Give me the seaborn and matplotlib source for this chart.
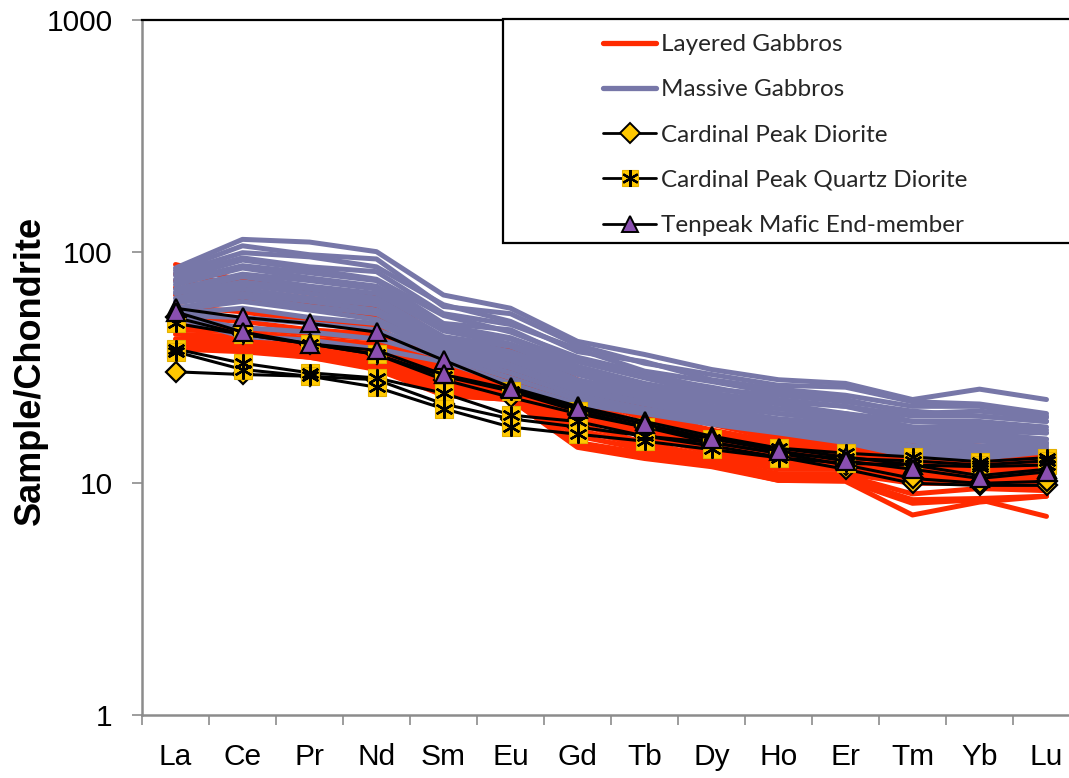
import numpy as np
import pandas as pd
import matplotlib
matplotlib.use("Agg")
import matplotlib.pyplot as plt
import seaborn as sns
from matplotlib.lines import Line2D
from matplotlib.patches import Rectangle
from matplotlib.legend_handler import HandlerTuple

# Chondrite-normalised rare earth element patterns
elements = ["La", "Ce", "Pr", "Nd", "Sm", "Eu", "Gd", "Tb", "Dy", "Ho", "Er", "Tm", "Yb", "Lu"]

layered_gabbros = {
    "LG-01": [88, 75, 70, 65, 42, 38, 28, 22, 19, 16, 16, 15, 14.5, 13],
    "LG-02": [80, 72, 67, 62, 40, 36, 27, 21, 18, 15.5, 15.5, 14, 14, 12.5],
    "LG-03": [75, 68, 63, 58, 38, 33, 26, 20, 17, 15, 15, 13.5, 13.5, 12],
    "LG-04": [70, 65, 60, 55, 36, 31, 25, 19.5, 16.5, 14.5, 14.5, 13, 13, 11.5],
    "LG-05": [65, 62, 57, 52, 35, 30, 24, 19, 16, 14, 14, 12.5, 12.5, 11.5],
    "LG-06": [58, 55, 50, 47, 33, 29, 23, 18, 15.5, 13.5, 13.5, 12, 12, 11],
    "LG-07": [52, 50, 46, 44, 32, 28, 22, 17.5, 15, 13, 13, 11.5, 11.5, 11],
    "LG-08": [48, 47, 44, 42, 31, 27, 21, 17, 14.5, 12.5, 12.5, 11, 11, 10.5],
    "LG-09": [46, 45, 42, 40, 30, 26.5, 20, 16.5, 14, 12, 12, 10.8, 10.8, 10.5],
    "LG-10": [44, 43, 40, 38, 29, 26, 19, 16, 13.5, 11.8, 11.8, 10.5, 10.5, 10],
    "LG-11": [42, 42, 39, 37, 28, 25.5, 18, 15, 13, 11.5, 11.5, 10.5, 10.5, 10],
    "LG-12": [41, 41, 38, 35, 27, 25, 17, 14.5, 12.5, 11, 11, 10, 10, 9.5],
    "LG-13": [40, 40, 37, 34, 26, 24.5, 16, 14, 12.5, 10.8, 10.8, 9, 9.5, 9.3],
    "LG-14": [39, 39, 36, 33, 25, 24, 15, 13.5, 12, 10.5, 10.5, 8.5, 8.6, 8.8],
    "LG-15": [38, 38, 35, 32, 24, 23, 14.5, 13, 12, 10.3, 10.3, 8.2, 8.5, 7.2],
    "LG-16": [38, 37, 35, 31, 24, 23, 14.3, 12.8, 11.8, 10.3, 10.2, 7.3, 8.3, 8.8],
}

massive_gabbros = {
    "MG-01": [85, 113, 110, 100, 65, 57, 41, 36, 31, 28, 27, 23, 25.5, 23],
    "MG-02": [83, 106, 97, 93, 58, 54, 39.5, 33, 29.5, 26.5, 26, 22.5, 22, 20],
    "MG-03": [81, 99, 95, 86, 59, 50, 37, 33.5, 28, 25.5, 24, 21.5, 21.5, 19.5],
    "MG-04": [79, 94, 86, 82, 54, 48.5, 38, 30.5, 27.5, 24.5, 23, 20, 20.5, 19.2],
    "MG-05": [76, 92, 84, 76, 53, 45, 35, 30, 25.5, 24, 22.5, 20.5, 19.5, 18.5],
    "MG-06": [74, 87, 81, 75, 49, 46, 34, 29, 26, 23, 21.5, 19.5, 19.5, 18.5],
    "MG-07": [72, 85, 77, 71, 48, 42.5, 33.5, 28.5, 24.5, 22.5, 21.5, 18.5, 18.5, 17.5],
    "MG-08": [69, 80, 75, 69, 46, 42, 32, 27, 24, 22, 20, 18.5, 18, 17],
    "MG-09": [67, 78, 71, 66, 45.5, 40, 31, 26.5, 23.5, 21, 20, 17.5, 17.5, 16.5],
    "MG-10": [66, 74, 69, 63, 43, 39, 30, 26, 22.5, 21, 19.5, 17.5, 16.8, 16.5],
    "MG-11": [63, 72, 66, 61, 42.5, 37, 29.5, 25, 22.5, 20, 19, 16.8, 16.5, 15.5],
    "MG-12": [61, 69, 63, 59, 41, 36.5, 28, 24.5, 21.5, 20, 18.5, 16.5, 16, 15.5],
    "MG-13": [60, 66, 61, 56, 40, 35, 27.5, 23.5, 21, 19, 18, 16, 15.5, 15],
    "MG-14": [57, 64, 58, 54, 38.5, 34, 26.5, 23.5, 20.5, 18.8, 17.5, 15.5, 15.2, 14.8],
    "MG-15": [56, 61, 56, 51, 38, 32.5, 25.5, 22.5, 20, 18, 17, 15.2, 14.5, 14.5],
    "MG-16": [54, 57, 52, 49, 36.5, 31.5, 25, 22, 19.5, 17.5, 16.5, 14.5, 14.2, 14.2],
    "MG-17": [53, 52, 49, 46, 36, 30, 24, 21, 19, 17.2, 16, 14, 13.6, 14],
    "MG-18": [52, 47, 45, 42, 35, 28.5, 23, 20.5, 18.5, 16.8, 15.5, 13.5, 13.2, 13.8],
    "MG-19": [52, 43, 41.5, 38, 33.5, 27, 22, 20, 18, 16.5, 15, 13, 12.8, 13.7],
}

cardinal_diorite = {
    "CPD-1": [30.3, 29.5, 29, 28, 22, 19, 17.5, 16, 14.5, 13, 11.5, 10, 9.8, 9.8],
    "CPD-2": [52, 44, 40, 36, 28, 23.5, 20, 17.5, 15, 13.5, 12, 10.5, 10, 10.2],
}

cardinal_quartz_diorite = {
    "CPQD-1": [49, 44, 40, 36, 29, 25, 20.5, 17.5, 15.5, 14.2, 13.5, 13, 12.4, 12.9],
    "CPQD-2": [38, 33, 30, 28.5, 24.5, 19.7, 18.5, 16, 15, 13.5, 12.8, 12.5, 12, 12.5],
    "CPQD-3": [37, 31, 29, 26, 21, 17.5, 16.3, 15.2, 14, 12.9, 12.2, 12, 11.8, 12],
}

tenpeak_mafic = {
    "TP-1": [57, 52, 49, 45, 34, 26, 21.5, 18.5, 16, 14.2, 13, 12, 10.8, 11.5],
    "TP-2": [55, 45, 40, 37.5, 29.5, 25.5, 21, 18, 15.6, 13.8, 12.5, 11.5, 10.5, 11.2],
}

RED = "#FF2A00"
BLUE = "#7777A8"
GOLD = "#FFC800"
PURPLE = "#8A4FB0"


def to_long(samples):
    rows = []
    for name, vals in samples.items():
        for i, v in enumerate(vals):
            rows.append({"sample": name, "pos": i, "value": v})
    return pd.DataFrame(rows)


sns.set_theme(style="white")
plt.rcParams["font.family"] = ["Liberation Sans", "DejaVu Sans"]

fig = plt.figure(figsize=(10.69, 7.78), dpi=100)
ax = fig.add_axes([142 / 1069, 63 / 778, 938 / 1069, 695 / 778])

common = dict(x="pos", y="value", units="sample", estimator=None, sort=False,
              ax=ax, legend=False)

sns.lineplot(data=to_long(layered_gabbros), color=RED, linewidth=3.6, **common)
sns.lineplot(data=to_long(massive_gabbros), color=BLUE, linewidth=3.6, **common)

sns.lineplot(data=to_long(cardinal_diorite), color="black", linewidth=2.2,
             marker="D", markersize=10, markerfacecolor=GOLD,
             markeredgecolor="black", markeredgewidth=1.6, **common)

qd = to_long(cardinal_quartz_diorite)
sns.lineplot(data=qd, color="black", linewidth=2.2,
             marker="s", markersize=13, markerfacecolor=GOLD,
             markeredgecolor="#E3B000", markeredgewidth=0.8, **common)
sns.lineplot(data=qd, color="black", linestyle="none",
             marker=(6, 2, 0), markersize=13,
             markeredgecolor="black", markeredgewidth=1.7, **common)

sns.lineplot(data=to_long(tenpeak_mafic), color="black", linewidth=2.2,
             marker="^", markersize=13, markerfacecolor=PURPLE,
             markeredgecolor="black", markeredgewidth=1.6, **common)

# Axes: log scale, element names centred between boundary ticks
ax.set_yscale("log")
ax.set_ylim(1, 1000)
ax.set_xlim(-0.5, len(elements) - 0.5)
ax.set_yticks([1, 10, 100, 1000])
ax.set_yticklabels(["1", "10", "100", "1000"])
ax.yaxis.set_minor_locator(matplotlib.ticker.NullLocator())
ax.set_xticks(np.arange(len(elements)))
ax.set_xticklabels(elements)
ax.set_xticks(np.arange(len(elements) + 1) - 0.5, minor=True)
ax.tick_params(axis="x", which="major", length=0, pad=20, labelsize=21.5, colors="black")
ax.tick_params(axis="x", which="minor", length=7, width=1.2, color="#8C8C8C", bottom=True)
ax.tick_params(axis="y", which="major", length=7, width=1.2, color="#8C8C8C",
               pad=14, labelsize=21.5, labelcolor="black", left=True)
ax.set_xlabel("")
ax.set_ylabel("Sample/Chondrite", fontsize=26, fontweight="bold", color="black")
ax.yaxis.label.set_verticalalignment("center")
ax.yaxis.set_label_coords(-0.1194, 0.496)

ax.spines["top"].set_color("black")
ax.spines["top"].set_linewidth(1.6)
ax.spines["right"].set_visible(False)
for s in ("left", "bottom"):
    ax.spines[s].set_color("#8C8C8C")
    ax.spines[s].set_linewidth(1.8)
ax.grid(False)

# Legend inside a framed box running off the right edge
handles = [
    Line2D([], [], color=RED, lw=3.8),
    Line2D([], [], color=BLUE, lw=3.8),
    Line2D([], [], color="black", lw=2.0, marker="D", markersize=10,
           markerfacecolor=GOLD, markeredgecolor="black", markeredgewidth=1.4),
    (Line2D([], [], color="black", lw=2.0, marker="s", markersize=12,
            markerfacecolor=GOLD, markeredgecolor="#E3B000", markeredgewidth=0.8),
     Line2D([], [], linestyle="none", marker=(6, 2, 0), markersize=12,
            markeredgecolor="black", markeredgewidth=1.6)),
    Line2D([], [], color="black", lw=2.0, marker="^", markersize=12,
           markerfacecolor=PURPLE, markeredgecolor="black", markeredgewidth=1.4),
]
labels = ["Layered Gabbros", "Massive Gabbros", "Cardinal Peak Diorite",
          "Cardinal Peak Quartz Diorite", "Tenpeak Mafic End-member"]
box = Rectangle((503 / 1069, 1 - 243 / 778), 600 / 1069, 224 / 778,
                transform=fig.transFigure, fill=True, facecolor="white",
                edgecolor="black", linewidth=1.6, zorder=3)
fig.patches.append(box)
leg = fig.legend(handles, labels, loc="upper left",
                 bbox_to_anchor=(603 / 1069, 1 - 34 / 778),
                 frameon=False, prop={"family": ["Lato", "DejaVu Sans"], "size": 17.5},
                 handlelength=2.2, handletextpad=0.2, labelspacing=1.0,
                 borderpad=0, borderaxespad=0,
                 handler_map={tuple: HandlerTuple(ndivide=1)})
leg.set_zorder(5)

fig.savefig("out.png", dpi=100)
